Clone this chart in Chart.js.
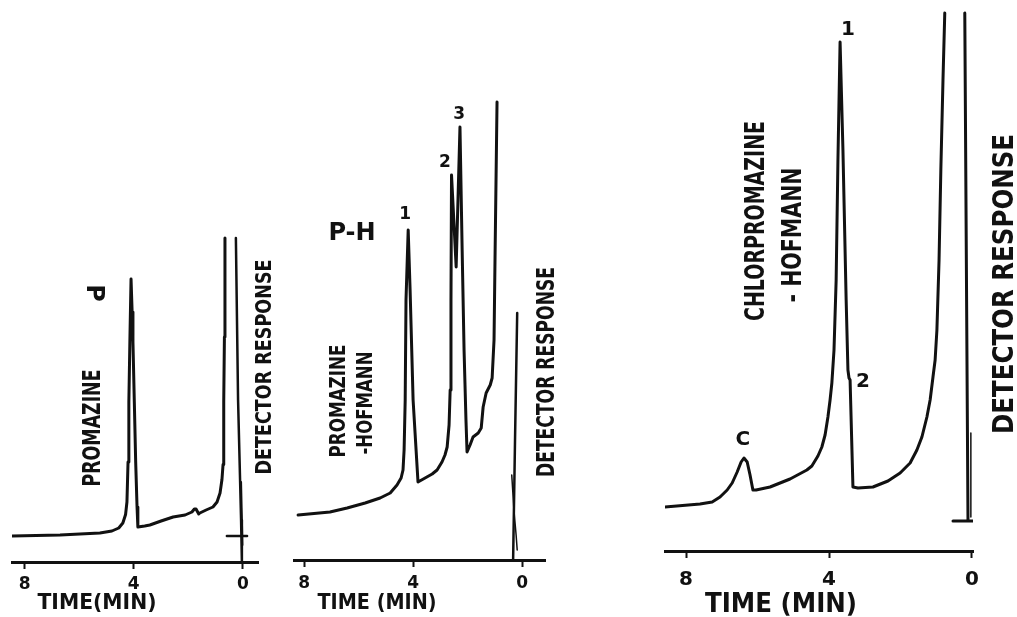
<!DOCTYPE html>
<html>
<head>
<meta charset="utf-8">
<script src="https://cdn.jsdelivr.net/npm/chart.js@4.4.0/dist/chart.umd.min.js"></script>
<style>
html, body { margin: 0; padding: 0; background: #fff; }
#wrap { position: relative; width: 1017px; height: 617px; overflow: hidden; background: #fff; }
#wrap canvas { position: absolute; top: 0; }
</style>
</head>
<body>
<div id="wrap">
  <canvas id="p1" width="290" height="617" style="left:0px"></canvas>
  <canvas id="p2" width="290" height="617" style="left:290px"></canvas>
  <canvas id="p3" width="437" height="617" style="left:580px"></canvas>
</div>
<script>
/* --------------- Axis ticks (minutes) --------------------- */
const xTicks = [8, 4, 0];

/* --------------- Promazine (P) --------------------- */
const p1Time = [8.45, 6.70, 5.24, 4.80, 4.55, 4.40, 4.30, 4.25, 4.21, 4.18, 4.14, 4.10, 4.06, 4.03, 3.98, 3.93, 3.88, 3.85, 3.60, 3.41, 3.00, 2.56, 2.12, 1.87, 1.78, 1.72, 1.62, 1.58, 1.35, 1.10, 0.95, 0.84, 0.77, 0.73, 0.71, 0.70, 0.68, 0.66];
const p1Resp = [5.2, 5.4, 5.8, 6.2, 6.8, 7.8, 9.5, 12.0, 20.0, 32.0, 45.0, 56.6, 50.0, 44.0, 32.0, 20.0, 11.0, 7.0, 7.2, 7.4, 8.2, 9.0, 9.4, 10.0, 10.6, 10.6, 9.6, 9.8, 10.4, 11.0, 12.0, 13.8, 16.5, 19.5, 25.0, 32.0, 45.0, 64.8];
const p1InjTime = [0.26, 0.18, 0.07, 0.04];
const p1InjResp = [64.8, 32.4, 8.4, 0];
const p1NoiseTime = [0.07, 0.02];
const p1NoiseResp = [16.0, 3.4];
const p1MarkTime = [0.59, -0.15];
const p1MarkResp = [5.2, 5.2];

/* --------------- Promazine - Hofmann (P-H) --------------------- */
const p2Time = [8.22, 7.05, 6.42, 5.76, 5.21, 4.84, 4.59, 4.44, 4.37, 4.33, 4.29, 4.26, 4.18, 4.11, 4.00, 3.82, 3.56, 3.30, 3.12, 2.94, 2.83, 2.75, 2.68, 2.64, 2.61, 2.59, 2.42, 2.28, 2.20, 2.13, 2.06, 2.02, 1.91, 1.80, 1.61, 1.50, 1.43, 1.32, 1.17, 1.10, 1.03, 0.99, 0.92];
const p2Resp = [9.0, 9.6, 10.4, 11.4, 12.4, 13.4, 15.0, 16.4, 18.0, 22.0, 32.0, 52.0, 66.0, 54.0, 32.0, 15.6, 16.4, 17.2, 18.0, 19.6, 21.0, 22.6, 27.0, 34.0, 52.0, 77.0, 58.6, 86.6, 62.0, 42.0, 28.0, 21.6, 23.0, 24.6, 25.4, 26.4, 30.6, 33.4, 35.0, 36.4, 44.0, 62.0, 91.6];
const p2InjTime = [0.18, 0.26, 0.33];
const p2InjResp = [49.4, 24.0, 0];
const p2NoiseTime = [0.38, 0.30, 0.22, 0.18];
const p2NoiseResp = [17.0, 10.0, 5.0, 2.0];
const p2PeakNames = ["1", "2", "3"];
const p2PeakTime = [4.29, 2.83, 2.31];
const p2PeakResp = [69.0, 79.4, 89.0];

/* --------------- Chlorpromazine - Hofmann --------------------- */
const p3Time = [8.59, 7.61, 7.27, 7.05, 6.85, 6.71, 6.57, 6.46, 6.38, 6.29, 6.21, 6.13, 6.04, 5.65, 5.09, 4.62, 4.48, 4.31, 4.20, 4.11, 4.03, 3.97, 3.92, 3.86, 3.80, 3.75, 3.69, 3.61, 3.52, 3.47, 3.44, 3.41, 3.33, 3.19, 2.77, 2.35, 2.01, 1.73, 1.54, 1.40, 1.26, 1.17, 1.09, 1.03, 0.98, 0.92, 0.87, 0.81, 0.76];
const p3Resp = [8.8, 9.4, 9.8, 10.8, 12.2, 13.6, 15.8, 17.8, 18.6, 17.8, 15.2, 12.2, 12.2, 12.8, 14.4, 16.2, 17.0, 19.0, 20.8, 23.2, 26.8, 30.2, 33.6, 40.2, 54.2, 78.2, 101.8, 80.2, 50.2, 36.2, 34.6, 34.2, 12.8, 12.6, 12.8, 14.0, 15.6, 17.6, 20.2, 22.8, 26.8, 30.2, 34.8, 38.2, 44.2, 58.2, 76.2, 94.2, 107.6];
const p3InjTime = [0.20, 0.11];
const p3InjResp = [107.6, 6.2];
const p3FootTime = [0.53, -0.02];
const p3FootResp = [6.0, 6.0];
const p3ThinTime = [0.03, 0.03];
const p3ThinResp = [23.6, 6.8];
const p3PeakNames = ["1", "2", "C"];
const p3PeakTime = [3.47, 3.05, 6.41];
const p3PeakResp = [104.2, 33.8, 22.2];

const FONT = '"DejaVu Sans", "Liberation Sans", sans-serif';
const INK = '#111';

function pts(t, r) {
    return t.map((v, i) => ({ x: v, y: r[i] }));
}

/* --------------- Text drawing plugin --------------------- */
const panelText = {
    id: 'panelText',
    afterDatasetsDraw(chart, args, opts) {
        const ctx = chart.ctx;
        ctx.save();
        ctx.fillStyle = INK;
        ctx.textAlign = 'center';
        ctx.textBaseline = 'middle';
        (opts.texts || []).forEach(tx => {
            ctx.save();
            ctx.translate(tx.x, tx.y);
            ctx.rotate(tx.rot || 0);
            ctx.font = 'bold ' + tx.size + 'px ' + FONT;
            ctx.fillText(tx.text, 0, 0, tx.len);
            ctx.restore();
        });
        const pk = opts.peaks;
        if (pk) {
            ctx.font = 'bold ' + pk.size + 'px ' + FONT;
            pk.names.forEach((n, i) => {
                const x = chart.scales.x.getPixelForValue(pk.t[i]);
                const y = chart.scales.y.getPixelForValue(pk.r[i]);
                ctx.fillText(n, x, y);
            });
        }
        ctx.restore();
    }
};

function makePanel(id, cfg) {
    const H = 617;
    return new Chart(document.getElementById(id), {
        type: 'scatter',
        data: {
            datasets: cfg.traces.map(tr => ({
                data: pts(tr.t, tr.r),
                showLine: true,
                borderColor: INK,
                borderWidth: tr.w,
                borderCapStyle: 'round',
                borderJoinStyle: 'round',
                pointRadius: 0,
                tension: 0,
                fill: false
            }))
        },
        options: {
            responsive: false,
            animation: false,
            events: [],
            layout: { padding: { left: cfg.padL, right: cfg.padR, top: cfg.axisY - 550, bottom: 0 } },
            plugins: {
                legend: { display: false },
                tooltip: { enabled: false },
                panelText: { texts: cfg.texts, peaks: cfg.peaks }
            },
            scales: {
                x: {
                    type: 'linear',
                    reverse: true,
                    min: cfg.tMin,
                    max: cfg.tMax,
                    afterBuildTicks: ax => { ax.ticks = xTicks.map(v => ({ value: v })); },
                    afterFit: ax => { ax.height = H - cfg.axisY; },
                    border: { display: true, color: INK, width: 3 },
                    grid: { drawOnChartArea: false, drawTicks: true, tickLength: 7, tickWidth: 2, tickColor: INK },
                    ticks: {
                        color: INK,
                        padding: cfg.tickPad,
                        maxRotation: 0,
                        autoSkip: false,
                        font: { family: FONT, size: cfg.tickSize, weight: 'bold' }
                    }
                },
                y: { display: false, min: 0, max: 110 }
            }
        },
        plugins: [panelText]
    });
}

const UP = -Math.PI / 2;

makePanel('p1', {
    padL: 12, padR: 32, axisY: 562, tMin: -0.55, tMax: 8.46, tickSize: 17, tickPad: 5,
    traces: [
        { t: p1Time, r: p1Resp, w: 3 },
        { t: p1InjTime, r: p1InjResp, w: 2.5 },
        { t: p1NoiseTime, r: p1NoiseResp, w: 2 },
        { t: p1MarkTime, r: p1MarkResp, w: 2.5 }
    ],
    texts: [
        { text: 'P', x: 93, y: 293, size: 24, rot: Math.PI / 2 },
        { text: 'PROMAZINE', x: 93, y: 428, size: 25, len: 117, rot: UP },
        { text: 'DETECTOR RESPONSE', x: 265, y: 367, size: 22, len: 215, rot: UP },
        { text: 'TIME(MIN)', x: 97, y: 603, size: 22, len: 119, rot: 0 }
    ]
});

makePanel('p2', {
    padL: 4, padR: 35, axisY: 560, tMin: -0.84, tMax: 8.37, tickSize: 17, tickPad: 6,
    traces: [
        { t: p2Time, r: p2Resp, w: 3 },
        { t: p2InjTime, r: p2InjResp, w: 2.5 },
        { t: p2NoiseTime, r: p2NoiseResp, w: 1.5 }
    ],
    texts: [
        { text: 'P-H', x: 62, y: 234, size: 24, len: 51, rot: 0 },
        { text: 'PROMAZINE', x: 50, y: 401, size: 21, len: 113, rot: UP },
        { text: '-HOFMANN', x: 76, y: 403, size: 22, len: 103, rot: UP },
        { text: 'DETECTOR RESPONSE', x: 258, y: 372, size: 24, len: 210, rot: UP },
        { text: 'TIME (MIN)', x: 87, y: 603, size: 22, len: 119, rot: 0 }
    ],
    peaks: { names: p2PeakNames, t: p2PeakTime, r: p2PeakResp, size: 17 }
});

makePanel('p3', {
    padL: 85, padR: 44, axisY: 551, tMin: -0.03, tMax: 8.59, tickSize: 20, tickPad: 10,
    traces: [
        { t: p3Time, r: p3Resp, w: 3 },
        { t: p3InjTime, r: p3InjResp, w: 3 },
        { t: p3FootTime, r: p3FootResp, w: 3 },
        { t: p3ThinTime, r: p3ThinResp, w: 1.5 }
    ],
    texts: [
        { text: 'CHLORPROMAZINE', x: 177, y: 221, size: 26, len: 200, rot: UP },
        { text: '- HOFMANN', x: 214, y: 235, size: 26, len: 135, rot: UP },
        { text: 'DETECTOR RESPONSE', x: 426, y: 284, size: 28, len: 300, rot: UP },
        { text: 'TIME (MIN)', x: 201, y: 605, size: 26, len: 152, rot: 0 }
    ],
    peaks: { names: p3PeakNames, t: p3PeakTime, r: p3PeakResp, size: 20 }
});
</script>
</body>
</html>
